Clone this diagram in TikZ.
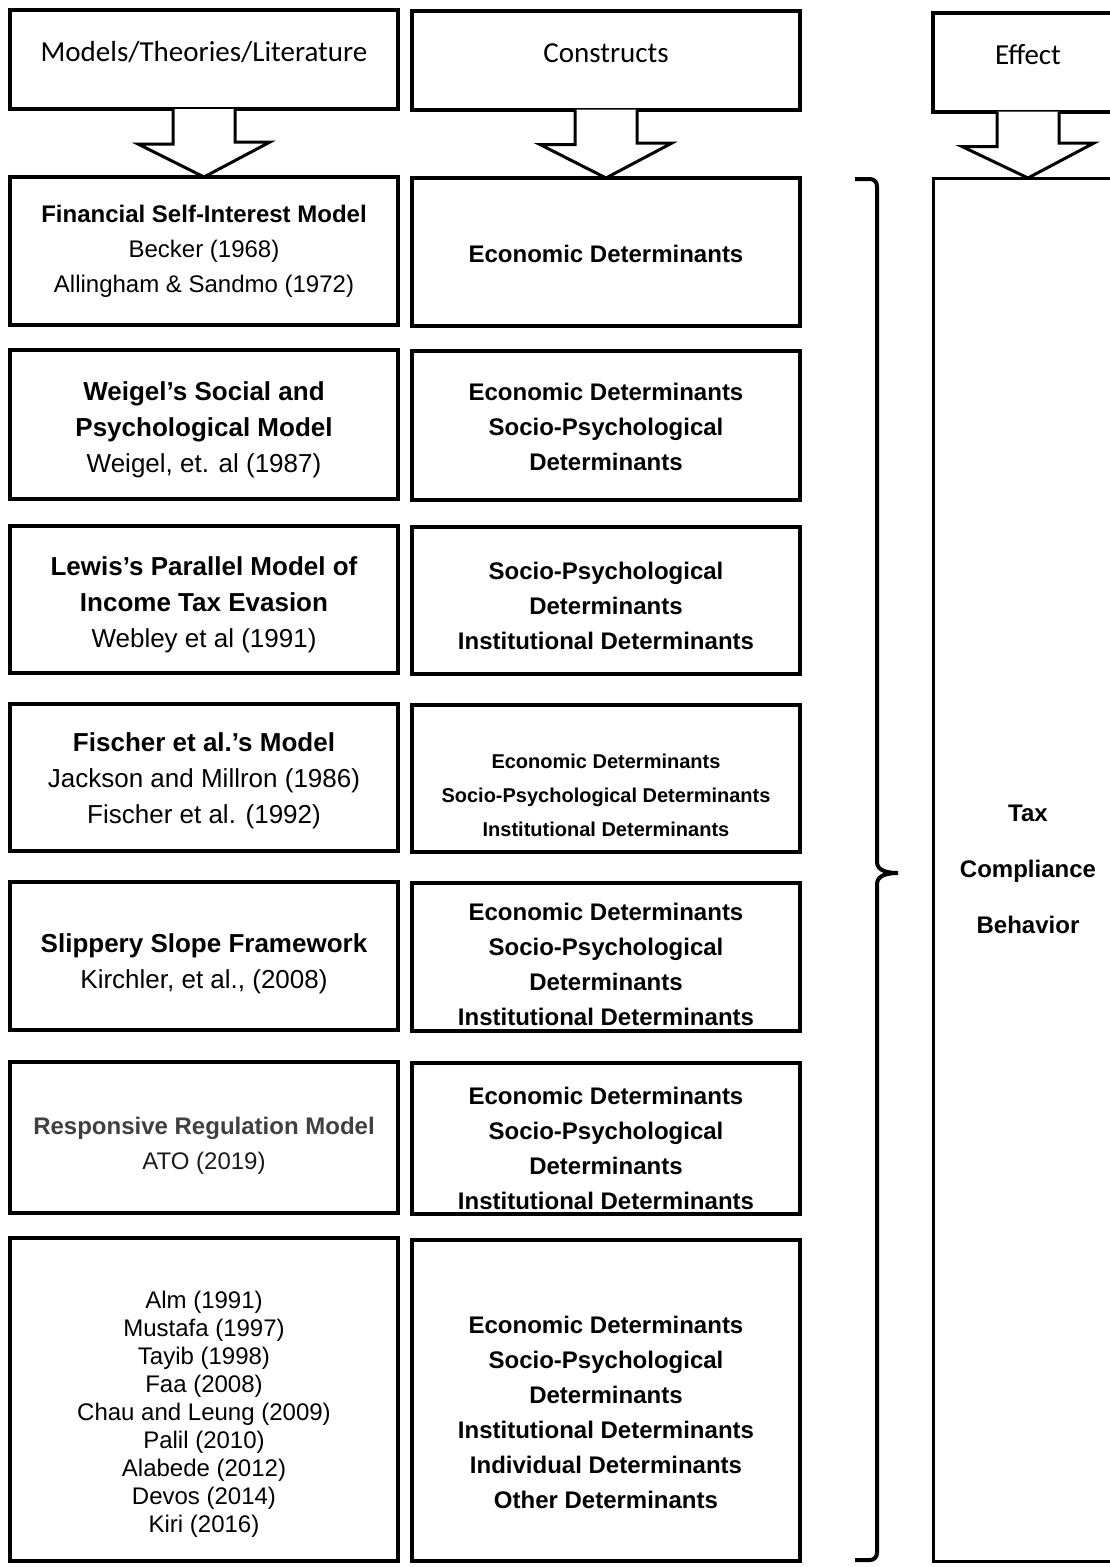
\documentclass[tikz,border=0pt]{standalone}
\usepackage{fontspec}
\setmainfont{Liberation Sans}
\newfontfamily\hdrfont{Carlito}
\usetikzlibrary{calc}
\definecolor{respgray}{HTML}{404040}
\definecolor{atogray}{HTML}{1A1A1A}
% move a block of centred lines down by #1 without changing its box
\newcommand\dropby[2]{\raisebox{-#1}[\height][\depth]{\begin{tabular}{@{}c@{}}#2\end{tabular}}}
\begin{document}
\begin{tikzpicture}[x=1pt,y=-1pt,
  box/.style={draw,line width=4pt,inner sep=0pt,outer sep=0pt,align=center,
    minimum width=388pt},
  hbox/.style={box,minimum height=99pt,text height=16pt,text depth=12pt,
    font=\hdrfont\fontsize{29}{35}\selectfont},
  modelbox/.style={box,font=\fontsize{26}{36}\selectfont},
  constbox/.style={box,font=\bfseries\fontsize{24}{35}\selectfont},
  blockarrow/.style={draw,fill=white,line width=3pt,line join=miter},
  bracepath/.style={draw,line width=4pt,line cap=butt}]
\useasboundingbox (0,0) rectangle (1110,1567);
\clip (0,0) rectangle (1110,1567);

% column headings
\node[hbox] (hm) at (204,59.5) {Models/Theories/Literature};
\node[hbox] (hc) at (606,60) {Constructs};
\node[hbox,minimum width=190pt] (he) at (1028,62) {Effect};

% models / theories / literature column
\node[modelbox,minimum height=148pt,font=\fontsize{24}{35}\selectfont] (m1) at (204,251)
  {\textbf{Financial Self-Interest Model}\\Becker (1968)\\Allingham \& Sandmo (1972)};
\node[modelbox,minimum height=149pt] (m2) at (204,424.5)
  {\dropby{5pt}{\textbf{Weigel’s Social and}\\\textbf{Psychological Model}\\Weigel, et. al (1987)}};
\node[modelbox,minimum height=147pt] (m3) at (204,599.5)
  {\dropby{5pt}{\textbf{Lewis’s Parallel Model of}\\\textbf{Income Tax Evasion}\\Webley et al (1991)}};
\node[modelbox,minimum height=147pt] (m4) at (204,777.5)
  {\dropby{3pt}{\textbf{Fischer et al.’s Model}\\Jackson and Millron (1986)\\Fischer et al. (1992)}};
\node[modelbox,minimum height=148pt] (m5) at (204,956)
  {\dropby{7pt}{\textbf{Slippery Slope Framework}\\Kirchler, et al., (2008)}};
\node[modelbox,minimum height=151pt,font=\fontsize{24}{35}\selectfont] (m6) at (204,1137.5)
  {\dropby{7pt}{\textcolor{respgray}{\textbf{Responsive Regulation Model}}\\\textcolor{atogray}{ATO (2019)}}};
\node[modelbox,minimum height=323pt,font=\fontsize{24}{28}\selectfont] (m7) at (204,1399.5)
  {\dropby{15pt}{Alm (1991)\\Mustafa (1997)\\Tayib (1998)\\Faa (2008)\\Chau and Leung (2009)\\Palil (2010)\\Alabede (2012)\\Devos (2014)\\Kiri (2016)}};

% constructs column
\node[constbox,minimum height=148pt] (c1) at (606,252) {\dropby{3pt}{Economic Determinants}};
\node[constbox,minimum height=149pt] (c2) at (606,425.5)
  {\dropby{3pt}{Economic Determinants\\Socio-Psychological\\Determinants}};
\node[constbox,minimum height=147pt] (c3) at (606,600.5)
  {\dropby{7pt}{Socio-Psychological\\Determinants\\Institutional Determinants}};
\node[constbox,minimum height=147pt,font=\bfseries\fontsize{20}{34}\selectfont] (c4) at (606,778.5)
  {\dropby{17pt}{Economic Determinants\\Socio-Psychological Determinants\\Institutional Determinants}};
\node[constbox,minimum height=148pt] (c5) at (606,957)
  {\dropby{9pt}{Economic Determinants\\Socio-Psychological\\Determinants\\Institutional Determinants}};
\node[constbox,minimum height=151pt] (c6) at (606,1138.5)
  {\dropby{11pt}{Economic Determinants\\Socio-Psychological\\Determinants\\Institutional Determinants}};
\node[constbox,minimum height=321pt] (c7) at (606,1400.5)
  {\dropby{13pt}{Economic Determinants\\Socio-Psychological\\Determinants\\Institutional Determinants\\Individual Determinants\\Other Determinants}};

% effect column
\node[box,line width=3pt,minimum width=190pt,minimum height=1383pt,
  font=\bfseries\fontsize{24}{56}\selectfont] (tcb) at (1028,869.5)
  {Tax\\Compliance\\Behavior};

% block arrows from the headings
\foreach \h/\t in {hm/m1,hc/c1,he/tcb}{
  \draw[blockarrow] ($(\h.south)+(-31,0)$) -- ++(0,35) -- ++(-35,0) -- (\t.north)
    -- ($(\t.north)+(66,-35)$) -- ++(-35,0) -- ($(\h.south)+(31,0)$);
}

% brace gathering the constructs
\coordinate (brtop) at (855,179);
\coordinate (brtip) at (898,873);
\coordinate (brbot) at (855,1560);
\draw[bracepath] (brtop) -- (870,179) to[out=0,in=90] (877,186) -- (877,862)
  to[out=-90,in=180] (brtip) to[out=180,in=90] (877,884) -- (877,1553)
  to[out=-90,in=0] (870,1560) -- (brbot);
\end{tikzpicture}
\end{document}
